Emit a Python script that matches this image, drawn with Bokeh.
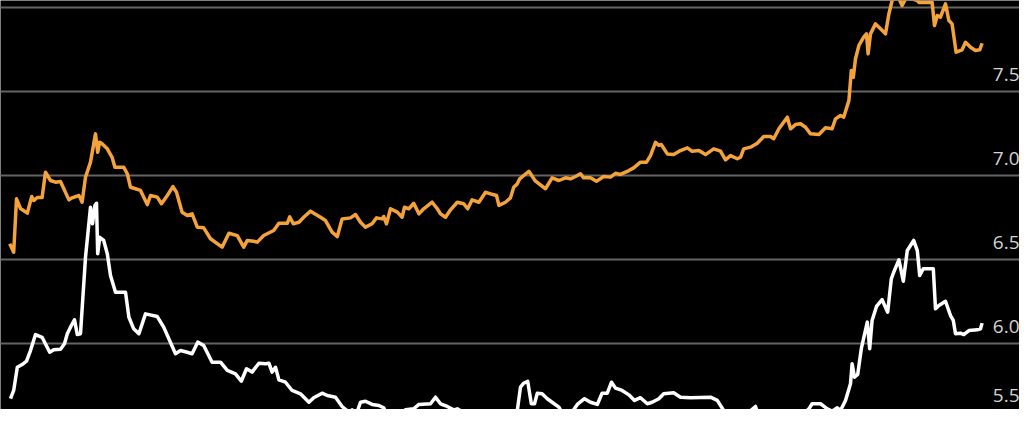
from bokeh.plotting import figure
from bokeh.models import Range1d, FixedTicker, Label
from bokeh.embed import file_html
from bokeh.resources import INLINE

# time index (weeks) and yields (%) for the two series
orange_t = [-0.2, 0.8, 1.5, 2.5, 4.2, 5.3, 5.8, 6.7, 7.9, 8.75, 10, 11.25, 12.5, 14.6, 15.4, 17.1, 17.5, 17.9,
            18.75, 20, 21.25, 21.8, 22.3, 22.9, 24.2, 25.4, 26.1, 28.3, 29.2, 30, 31.25, 32.5, 33.5, 34.2, 35,
            36.7, 37.75, 39.2, 40.6, 41.5, 42.9, 44.2, 45.4, 46.7, 48.3, 50, 52.9, 54.6, 56.7, 58.3, 59.2, 60.8,
            61.7, 63.3, 65.8, 67.1, 69.2, 69.8, 70.7, 72.1, 73.3, 75, 77.5, 78.75, 80.4, 81.7, 82.9, 85, 86.25,
            87.5, 88.75, 90.4, 91.5, 92.9, 93.3, 94, 95, 96.7, 97.9, 98.5, 99.6, 100.8, 102.1, 103.3, 105.4,
            106.7, 107.5, 108.75, 110, 111.7, 113.3, 114.3, 115.4, 117.1, 118.75, 120, 121.5, 122.1, 123.75,
            125, 125.8, 126.7, 127.3, 129.6, 131.25, 133.75, 135.4, 137.1, 138.75, 140, 141.25, 142.5, 143.3,
            145, 146.5, 148.3, 150, 151.25, 152.5, 154.6, 155.8, 157.5, 159, 160, 161.25, 162.1, 162.7, 164.2,
            165.8, 167.5, 169.2, 170.4, 172.1, 173.75, 175.8, 177.5, 178.75, 180, 181.7, 182.5, 183.3, 185,
            186.7, 188.3, 190, 190.8, 192.1, 194.2, 195, 196.25, 197.5, 198.75, 200, 202.1, 203.75, 205.4,
            206.25, 207.5, 208.3, 209.6, 210.2, 210.7, 211.25, 212.1, 213.3, 214, 214.4, 215, 216.25, 217.5,
            218.75, 219.6, 220.4, 221.75, 222.9, 224, 226.7, 227.1, 228.75, 230.4, 231, 231.7, 232.5, 233.75,
            234.6, 235.4, 236.4, 237.9, 238.75, 240, 241.25, 242.3, 242.9]
orange_v = [6.595, 6.545, 6.862, 6.805, 6.777, 6.876, 6.852, 6.870, 6.870, 7.020, 6.971, 6.961, 6.965, 6.856,
            6.868, 6.882, 6.864, 6.842, 6.991, 7.080, 7.248, 7.139, 7.198, 7.189, 7.159, 7.109, 7.050, 7.050,
            7.011, 6.931, 6.922, 6.912, 6.862, 6.828, 6.882, 6.872, 6.833, 6.882, 6.935, 6.901, 6.783, 6.763,
            6.773, 6.694, 6.690, 6.625, 6.575, 6.658, 6.644, 6.575, 6.615, 6.610, 6.605, 6.644, 6.674, 6.717,
            6.717, 6.755, 6.714, 6.723, 6.753, 6.789, 6.753, 6.733, 6.664, 6.638, 6.743, 6.749, 6.769, 6.723,
            6.694, 6.714, 6.749, 6.743, 6.757, 6.714, 6.803, 6.783, 6.753, 6.812, 6.803, 6.836, 6.773, 6.803,
            6.842, 6.803, 6.773, 6.753, 6.797, 6.842, 6.833, 6.803, 6.856, 6.842, 6.901, 6.892, 6.882, 6.823,
            6.842, 6.868, 6.931, 6.951, 6.981, 7.026, 6.967, 6.922, 6.987, 6.971, 6.987, 6.981, 6.995, 7.011,
            6.987, 6.987, 6.967, 6.995, 6.991, 7.014, 7.007, 7.030, 7.046, 7.080, 7.080, 7.119, 7.198, 7.179,
            7.185, 7.129, 7.125, 7.149, 7.165, 7.145, 7.149, 7.125, 7.159, 7.145, 7.094, 7.119, 7.100, 7.109,
            7.159, 7.169, 7.192, 7.232, 7.232, 7.219, 7.278, 7.347, 7.278, 7.303, 7.308, 7.287, 7.248, 7.244,
            7.284, 7.278, 7.337, 7.357, 7.347, 7.446, 7.624, 7.584, 7.694, 7.773, 7.822, 7.842, 7.723, 7.842,
            7.901, 7.872, 7.842, 7.961, 8.040, 8.070, 8.010, 8.060, 8.040, 8.028, 8.028, 8.030, 7.891, 7.951,
            7.941, 8.020, 7.921, 7.901, 7.733, 7.747, 7.792, 7.762, 7.743, 7.747, 7.786]

white_t = [0, 0.8, 1.7, 2.9, 4, 5, 6.25, 7.9, 9.8, 10.8, 12.5, 13.5, 14.2, 15, 16, 16.7, 17.5, 18.75, 20, 20.5,
           21.1, 21.5, 21.8, 22.3, 23.3, 24.2, 25, 26.25, 28.75, 29.6, 30.8, 32.1, 33.75, 36.7, 38.3, 41.25,
           42.5, 44.2, 45.4, 46.8, 48.3, 50.4, 52.5, 54.2, 56.25, 57.7, 59, 60.4, 62.1, 63.75, 64.6, 65.4,
           66.25, 67.1, 68.75, 70.4, 72.5, 74.6, 75.8, 77.9, 79.2, 81.25, 82.9, 84.6, 85.4, 86.5, 87.5, 88.75,
           90.4, 92.1, 93.3, 95, 96.7, 98.75, 100.8, 102.1, 105, 106.25, 107.5, 109.2, 110.8, 111.7, 114.2,
           115.8, 117.5, 119.2, 121.7, 122.5, 123.3, 125.8, 126.7, 127.5, 128.3, 129.3, 130.2, 131, 131.7,
           132.9, 134.2, 135.4, 137.1, 138.5, 139.8, 141.7, 143.5, 145, 146.7, 147.9, 149.2, 150.25, 151.25,
           152.9, 154.6, 156, 157.5, 159.2, 160.4, 162.1, 163.3, 165.8, 167.5, 170, 175, 176.7, 178.3, 180,
           182.5, 184.6, 186.25, 187.3, 189.6, 190.4, 191.7, 193.3, 194.2, 195.8, 197.9, 199.6, 200.4, 202.5,
           204.2, 205.4, 206.7, 207.5, 208.75, 210, 210.4, 211, 211.8, 212.7, 214.2, 214.8, 215.4, 216.5,
           217.9, 219.3, 220.2, 220.8, 222.1, 223.2, 224.2, 225.8, 226.7, 227.3, 228.2, 230.7, 231.25, 232.1,
           233.75, 235, 235.7, 236.25, 237.5, 238.3, 239.6, 241.7, 242.5, 242.9]
white_v = [5.675, 5.724, 5.862, 5.878, 5.898, 5.961, 6.056, 6.040, 5.951, 5.966, 5.969, 6.001, 6.061, 6.100,
           6.144, 6.056, 6.061, 6.515, 6.812, 6.714, 6.822, 6.836, 6.536, 6.634, 6.615, 6.536, 6.407, 6.308,
           6.308, 6.159, 6.090, 6.061, 6.179, 6.163, 6.100, 5.942, 5.961, 5.951, 5.942, 6.011, 5.991, 5.892,
           5.892, 5.843, 5.823, 5.779, 5.853, 5.833, 5.886, 5.883, 5.886, 5.833, 5.862, 5.787, 5.773, 5.724,
           5.704, 5.654, 5.681, 5.708, 5.694, 5.684, 5.629, 5.595, 5.609, 5.586, 5.654, 5.660, 5.641, 5.635,
           5.621, 5.536, 5.536, 5.609, 5.615, 5.641, 5.645, 5.684, 5.645, 5.629, 5.609, 5.615, 5.581, 5.542,
           5.522, 5.536, 5.550, 5.562, 5.530, 5.565, 5.605, 5.744, 5.767, 5.779, 5.645, 5.645, 5.708, 5.704,
           5.675, 5.654, 5.625, 5.565, 5.575, 5.641, 5.675, 5.654, 5.641, 5.708, 5.708, 5.773, 5.738, 5.724,
           5.698, 5.665, 5.681, 5.645, 5.654, 5.675, 5.704, 5.710, 5.684, 5.681, 5.684, 5.665, 5.605, 5.565,
           5.562, 5.595, 5.629, 5.556, 5.546, 5.526, 5.575, 5.589, 5.565, 5.581, 5.575, 5.615, 5.645, 5.645,
           5.615, 5.601, 5.621, 5.605, 5.665, 5.764, 5.882, 5.803, 5.819, 5.972, 6.130, 5.972, 6.140, 6.223,
           6.263, 6.189, 6.387, 6.426, 6.500, 6.373, 6.555, 6.615, 6.555, 6.407, 6.447, 6.447, 6.209, 6.229,
           6.254, 6.169, 6.140, 6.061, 6.064, 6.056, 6.080, 6.084, 6.090, 6.124]

tick_values = [5.5, 6.0, 6.5, 7.0, 7.5, 8.0]
tick_labels = ["5.5", "6.0", "6.5", "7.0", "7.5", ""]

p = figure(width=1019, height=409, output_backend="svg", toolbar_location=None,
           x_axis_location=None, y_axis_location=None,
           x_range=Range1d(-2.5, 252.25), y_range=Range1d(5.611, 8.040),
           min_border_left=0, min_border_right=0, min_border_top=0, min_border_bottom=0)
p.background_fill_color = "#000000"
p.border_fill_color = "#000000"
p.outline_line_color = None
p.xgrid.visible = False
p.ygrid.ticker = FixedTicker(ticks=tick_values)
p.ygrid.grid_line_color = "#646464"
p.ygrid.grid_line_width = 2

p.line(orange_t, orange_v, line_color="#f4a23a", line_width=3.5, line_join="round")
p.line(white_t, white_v, line_color="#ffffff", line_width=3.5, line_join="round")

y_lo = p.y_range.start
style = dict(text_align="right", text_baseline="alphabetic", text_color="#d4d4d4",
             text_font_size="19px", text_font="Open Sans")
for v, lab in zip(tick_values, tick_labels):
    if not lab:
        continue
    if v > y_lo:
        # label sits just above its gridline
        p.add_layout(Label(x=252.25, y=v, text=lab, y_offset=17, **style))
    else:
        # gridline falls below the frame: keep its label inside, at the bottom edge
        p.add_layout(Label(x=252.25, y=14, y_units="screen", text=lab, **style))

open("out.html", "w").write(file_html(p, INLINE))
